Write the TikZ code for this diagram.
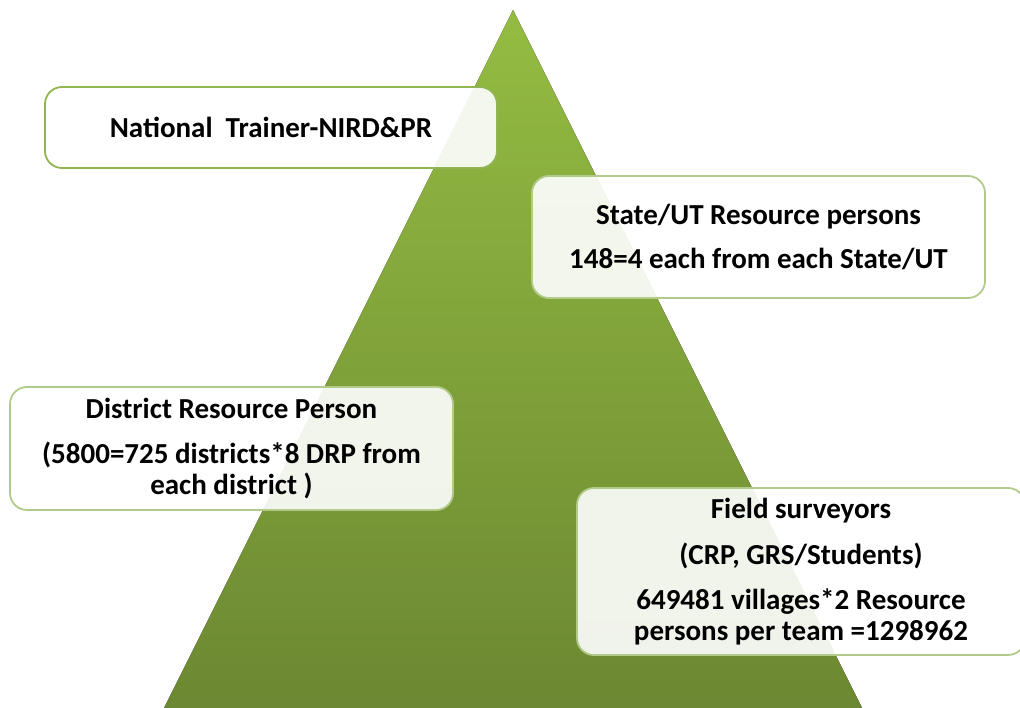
\documentclass[tikz,border=0pt]{standalone}
\usepackage{fontspec}
\setmainfont{Carlito}
\definecolor{gtop}{RGB}{148,188,66}
\definecolor{gbot}{RGB}{108,136,50}
\definecolor{bordA}{RGB}{146,181,84}
\definecolor{bordB}{RGB}{178,203,138}
\tikzset{
  lvlbox/.style={draw=bordB, line width=1.8pt, rounded corners=17pt, fill=white,
    fill opacity=0.9, text opacity=1, align=center, inner sep=0pt,
    font=\bfseries\fontsize{29}{31}\selectfont},
}
\begin{document}
\begin{tikzpicture}[x=1pt,y=-1pt]
\useasboundingbox (0,0) rectangle (1020,708);
\coordinate (apex) at (513,10);
\coordinate (bl) at (164,708);
\coordinate (br) at (862,708);
\fill[top color=gtop, bottom color=gbot] (apex) -- (br) -- (bl) -- cycle;
\node[lvlbox, draw=bordA, minimum width=452pt, minimum height=81pt] (nat) at (271,127.5)
  {National\ \ Trainer-NIRD\&PR};
\node[lvlbox, minimum width=453pt, minimum height=122pt] (state) at (758.5,237)
  {State/UT Resource persons\\[13pt]148=4 each from each State/UT};
\node[lvlbox, minimum width=443pt, minimum height=123pt] (dist) at (231.5,448.5)
  {District Resource Person\\[14pt](5800=725 districts*8 DRP from\\each district )};
\node[lvlbox, minimum width=448pt, minimum height=167pt] (field) at (801,571.5)
  {Field surveyors\\[15pt](CRP, GRS/Students)\\[14pt]649481 villages*2 Resource\\persons per team =1298962};
\end{tikzpicture}
\end{document}
